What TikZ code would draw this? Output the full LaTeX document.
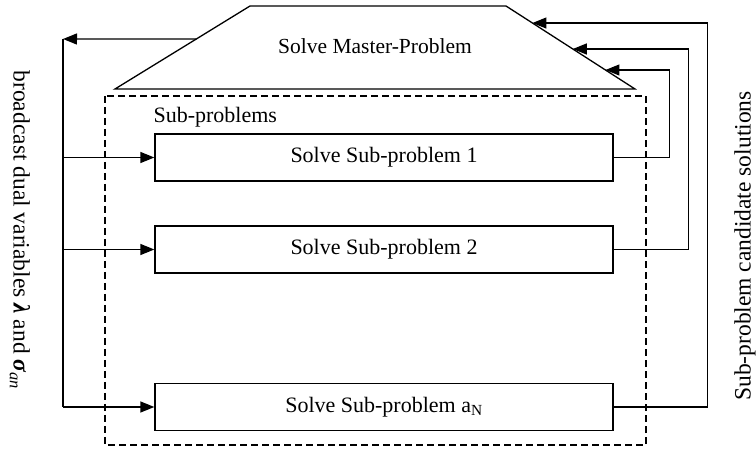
\documentclass[tikz,border=0pt]{standalone}
\usepackage{fontspec}
\setmainfont{Liberation Serif}
\usepackage{tikz}
\usetikzlibrary{arrows.meta,calc}

\tikzset{
  subbox/.style={draw, line width=1.3pt, minimum width=458pt, minimum height=47pt,
    inner sep=0pt, font=\fontsize{22}{26}\selectfont},
  arr/.style={line width=1.3pt, -{Triangle[length=14pt,width=11pt]}},
  wire/.style={line width=1.3pt},
  sidetext/.style={font=\fontsize{23.5}{28}\selectfont}
}

\begin{document}
\begin{tikzpicture}[x=1pt,y=-1pt]
\useasboundingbox (0,0) rectangle (756,449);

% master problem (trapezoid)
\coordinate (tl) at (250,6);
\coordinate (tr) at (506,6);
\coordinate (br) at (635,89);
\coordinate (bl) at (115,89);
\draw[wire] (tl) -- (tr) -- (br) -- (bl) -- cycle;
\node[font=\fontsize{21.5}{26}\selectfont] (master) at (375,46) {Solve Master-Problem};

% points on the slanted edges
\coordinate (mout) at ($(tl)!0.398!(bl)$);
\coordinate (min1) at ($(tr)!0.205!(br)$);
\coordinate (min2) at ($(tr)!0.518!(br)$);
\coordinate (min3) at ($(tr)!0.771!(br)$);

% sub-problems
\draw[line width=1.3pt, dash pattern=on 7pt off 4pt] (105,96) rectangle (646,445);
\node[anchor=west, font=\fontsize{22}{26}\selectfont] (sublabel) at (150,117) {Sub-problems};
\node[subbox] (s1) at (384,157.5) {Solve Sub-problem 1};
\node[subbox] (s2) at (384,249.5) {Solve Sub-problem 2};
\node[subbox] (sN) at (384,407) {Solve Sub-problem a\textsubscript{N}};

% broadcast
\coordinate (btop) at (63,39);
\draw[arr] (mout) -- (btop);
\draw[wire] (btop) -- (btop |- sN.west);
\draw[arr] (btop |- s1.west) -- (s1.west);
\draw[arr] (btop |- s2.west) -- (s2.west);
\draw[arr] (btop |- sN.west) -- (sN.west);

% candidate solutions back to master
\draw[arr] (s1.east) -- ++(56,0) |- (min3);
\draw[arr] (s2.east) -- ++(75,0) |- (min2);
\draw[arr] (sN.east) -- ++(94,0) |- (min1);

% side texts
\node[sidetext, rotate=-90] (bcast) at (20,230)
  {broadcast dual variables {\bfseries\itshape λ} and {\bfseries\itshape σ}\textsubscript{\itshape an}};
\node[sidetext, rotate=90] (cand) at (745,246) {Sub-problem candidate solutions};
\end{tikzpicture}
\end{document}
